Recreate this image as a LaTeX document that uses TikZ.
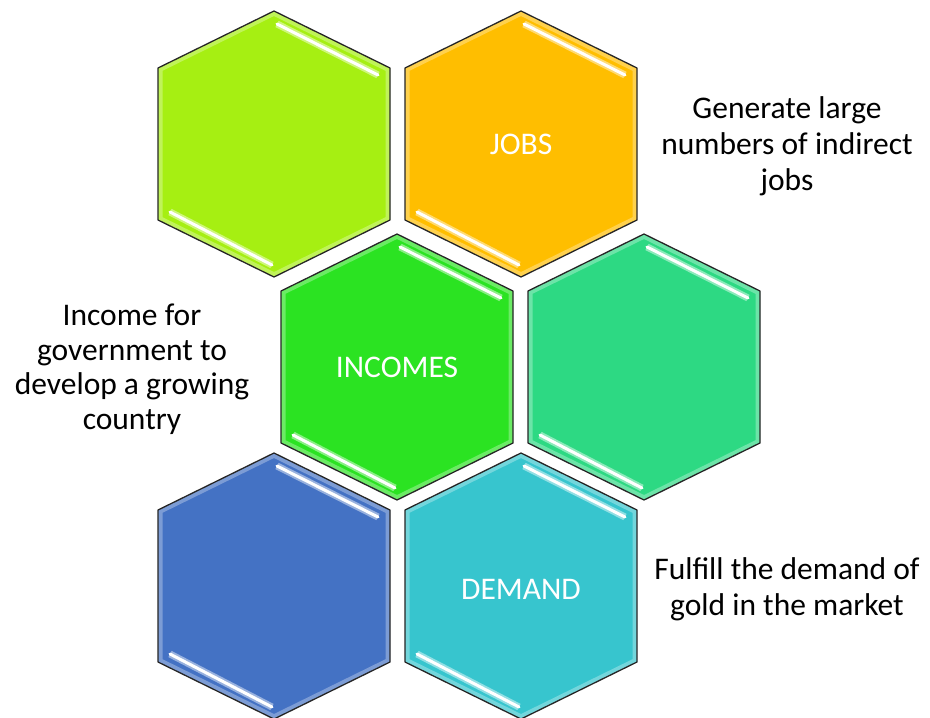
\documentclass[tikz,border=0pt]{standalone}
\usepackage{fontspec}
\setmainfont{Carlito}
\definecolor{hexlime}{HTML}{A6EF12}
\definecolor{hexorange}{HTML}{FFBE00}
\definecolor{hexgreen}{HTML}{2BE322}
\definecolor{hexmint}{HTML}{2DD983}
\definecolor{hexblue}{HTML}{4472C4}
\definecolor{hexcyan}{HTML}{37C5CE}
\tikzset{
  gloss/.style={white, line width=3pt, line cap=round,
    preaction={draw, white, opacity=.45, line width=7pt}},
  hexlabel/.style={text=white, font=\fontsize{31.5}{36}\selectfont},
  sidenote/.style={text=black, align=center, font=\fontsize{31.5}{36}\selectfont}
}
\newcommand{\hexpath}{(0,-133) -- (116,-76) -- (116,76) -- (0,133) -- (-116,76) -- (-116,-76) -- cycle}
\newcommand{\hexcell}[2]{%
  \begin{scope}[shift={#1}]
    \fill[#2] \hexpath;
    \begin{scope}
      \clip \hexpath;
      \draw[white, opacity=.3, line width=9pt] \hexpath;
    \end{scope}
    \draw[black!85, line width=1.3pt, line join=round] \hexpath;
    \draw[gloss] (3,-120) -- (104,-69);
    \draw[gloss] (-104,68) -- (-2,121);
  \end{scope}}
\begin{document}
\begin{tikzpicture}[x=1pt, y=-1pt]
  \useasboundingbox[fill=white] (0,0) rectangle (930,718);
  % honeycomb
  \hexcell{(274,144)}{hexlime}
  \hexcell{(521,144)}{hexorange}
  \hexcell{(397,367)}{hexgreen}
  \hexcell{(644,367)}{hexmint}
  \hexcell{(274,586)}{hexblue}
  \hexcell{(521,586)}{hexcyan}
  % labels
  \node[hexlabel] (jobs) at (521,144) {JOBS};
  \node[hexlabel] (incomes) at (397,367) {INCOMES};
  \node[hexlabel] (demand) at (521,589) {DEMAND};
  \node[sidenote] (jobsnote) at (787,146) {Generate large\\numbers of indirect\\jobs};
  \node[sidenote, font=\fontsize{31.5}{34.5}\selectfont] (incomenote) at (132,369)
    {Income for\\government to\\develop a growing\\country};
  \node[sidenote] (demandnote) at (787,589) {Fulfill the demand of\\gold in the market};
\end{tikzpicture}
\end{document}
